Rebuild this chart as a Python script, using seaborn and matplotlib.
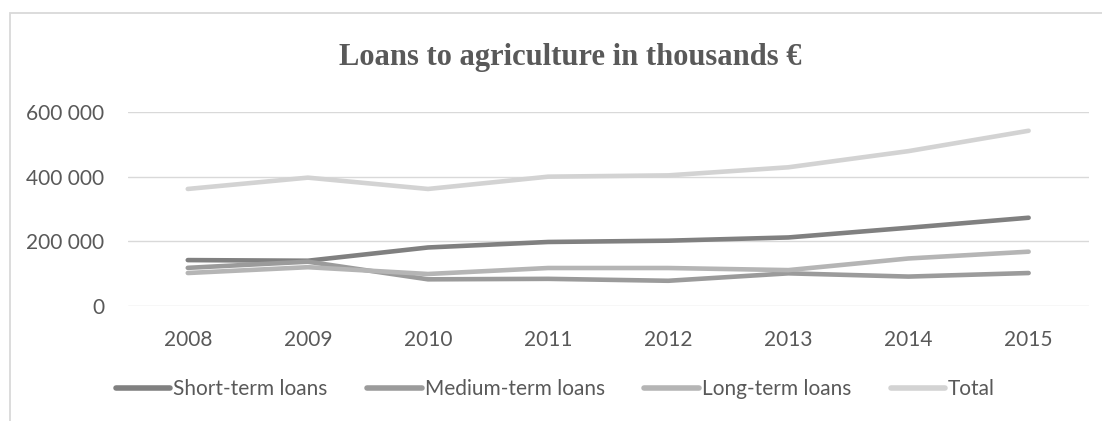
import matplotlib
matplotlib.use("Agg")
import matplotlib.pyplot as plt
import matplotlib.ticker as mticker
from matplotlib.patches import Rectangle
from matplotlib.lines import Line2D
import pandas as pd
import seaborn as sns

# Loans to agriculture, thousands of euros
years = [2008, 2009, 2010, 2011, 2012, 2013, 2014, 2015]
short_term = [142000, 140000, 181000, 198000, 202000, 212000, 242000, 273000]
medium_term = [118000, 137000, 82500, 84000, 78000, 101000, 91000, 102000]
long_term = [102000, 120000, 99000, 117500, 117500, 111000, 147000, 168000]
total = [362000, 397000, 362000, 400000, 404000, 429000, 479000, 542000]

series_names = ["Short-term loans", "Medium-term loans", "Long-term loans", "Total"]
series_colors = ["#808080", "#9b9b9b", "#b5b5b5", "#d3d3d3"]
y_ticks = [0, 200000, 400000, 600000]

df = pd.concat(
    [
        pd.DataFrame({"year": years, "value": vals, "series": name})
        for name, vals in zip(series_names, [short_term, medium_term, long_term, total])
    ],
    ignore_index=True,
)

sns.set_theme(style="white")
plt.rcParams["font.family"] = ["Lato", "DejaVu Sans"]

W, H, DPI = 1102, 421, 100
fig = plt.figure(figsize=(W / DPI, H / DPI), dpi=DPI)
fig.patch.set_facecolor("white")

# chart frame (runs off the right and bottom edges)
fig.patches.append(
    Rectangle((10 / W, -0.1), 1.2, 1 - 13 / H + 0.1, transform=fig.transFigure,
              fill=False, edgecolor="#d9d9d9", linewidth=1.3, zorder=0)
)

left, right, top, bottom = 127.7 / W, 1088.7 / W, 1 - 112 / H, 1 - 306 / H
ax = fig.add_axes([left, bottom, right - left, top - bottom])
ax.set_facecolor("none")

palette = dict(zip(series_names, series_colors))
sns.lineplot(data=df, x="year", y="value", hue="series", hue_order=series_names,
             palette=palette, linewidth=3.3, ax=ax, legend=False,
             solid_capstyle="round", zorder=3)

ax.set_xlim(2007.5, 2015.5)
ax.set_ylim(0, 600000)
ax.set_xticks(years)
ax.set_xticklabels([str(y) for y in years])
ax.set_yticks(y_ticks)
ax.yaxis.set_major_formatter(
    mticker.FuncFormatter(lambda v, p: f"{int(v):,}".replace(",", " "))
)
ax.grid(axis="y", color="#d9d9d9", linewidth=1.0, zorder=0)
ax.grid(axis="x", visible=False)
for s in ax.spines.values():
    s.set_visible(False)
ax.tick_params(axis="both", length=0, labelsize=15, labelcolor="#595959")
ax.tick_params(axis="y", pad=17)
ax.tick_params(axis="x", pad=17)
ax.set_xlabel("")
ax.set_ylabel("")

fig.text(570 / W, 1 - 58 / H, "Loans to agriculture in thousands €",
         ha="center", va="center", fontsize=22, fontweight="bold",
         color="#595959", family=["Liberation Serif", "DejaVu Serif"])

handles = [Line2D([0], [0], color=c, linewidth=4.0, solid_capstyle="round")
           for c in series_colors]
fig.legend(handles, series_names, loc="center", bbox_to_anchor=(555.5 / W, 1 - 389 / H),
           ncol=4, frameon=False, fontsize=15, labelcolor="#595959",
           handlelength=2.6, handletextpad=0.15, columnspacing=1.9)

fig.savefig("out.png", dpi=DPI, facecolor="white")
